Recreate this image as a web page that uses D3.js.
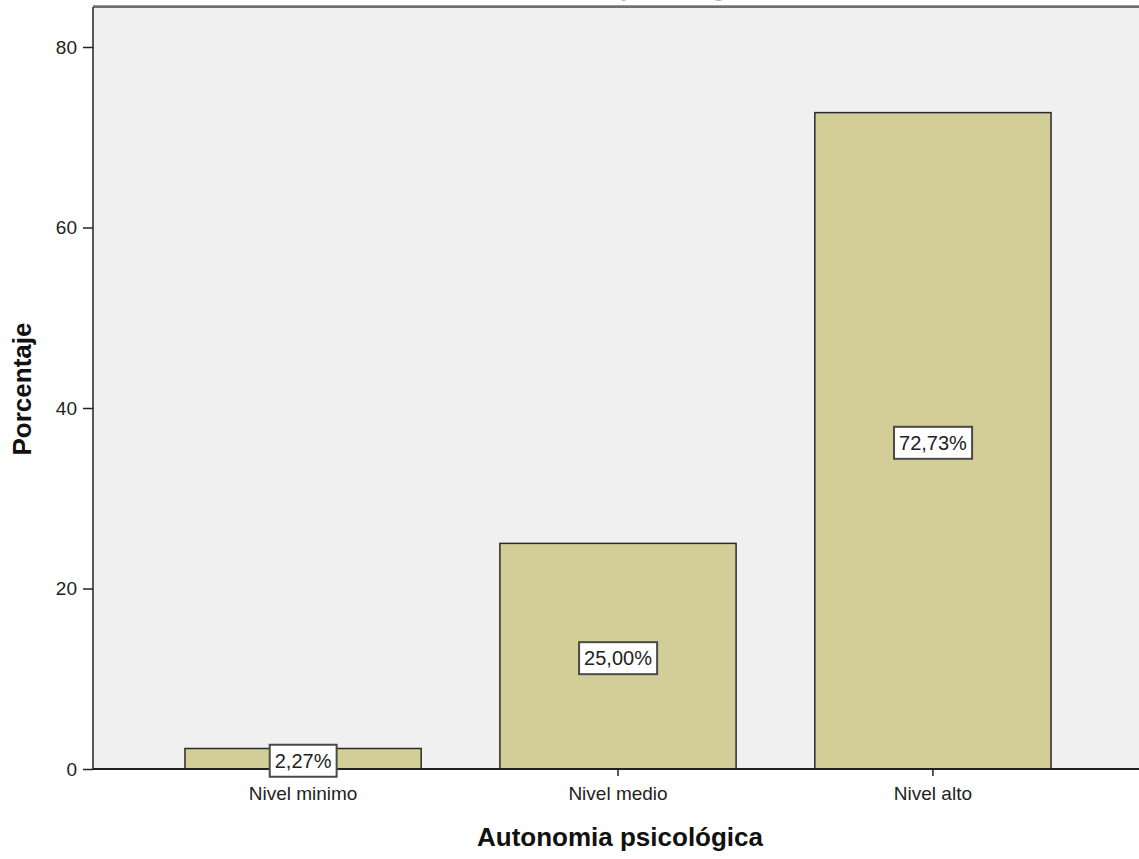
<html>
<head>
<meta charset="utf-8">
<style>
  body { margin: 0; background: #fff; }
  text { font-family: "Liberation Sans", Arial, sans-serif; }
</style>
</head>
<body>
<svg width="1139" height="859"></svg>
<script src="https://cdn.jsdelivr.net/npm/d3@7/dist/d3.min.js"></script>
<script>
const categories = ["Nivel minimo", "Nivel medio", "Nivel alto"]
const values = [2.27, 25.00, 72.73]
const valueLabels = ["2,27%", "25,00%", "72,73%"]
const yTicks = [0, 20, 40, 60, 80]

const svg = d3.select("svg")

// plot frame
const plotLeft = 93, plotRight = 1143, plotTop = 7, plotBottom = 769

const x = d3.scaleBand().domain(categories).range([plotLeft, plotRight])
  .paddingInner(0.25).paddingOuter(0.292)
const y = d3.scaleLinear().domain([0, 80]).range([plotBottom, 47])

// background
svg.append("rect").attr("x", plotLeft).attr("y", plotTop).attr("width", plotRight - plotLeft).attr("height", plotBottom - plotTop)
  .attr("fill", "#f0f0f0")
// top border (double gray)
svg.append("line").attr("x1", plotLeft).attr("x2", 1139).attr("y1", plotTop - 1.5).attr("y2", plotTop - 1.5)
  .attr("stroke", "#999").attr("stroke-width", 1)
svg.append("line").attr("x1", plotLeft).attr("x2", 1139).attr("y1", plotTop).attr("y2", plotTop)
  .attr("stroke", "#6e6e6e").attr("stroke-width", 2)

// title, mostly cut off at the top
svg.append("text").attr("x", 620).attr("y", -4).attr("text-anchor", "middle")
  .attr("font-size", 26).attr("font-weight", "bold").attr("fill", "#bbb").text("Autonomia psicológica")

// bars
svg.selectAll("rect.bar").data(values).enter().append("rect").attr("class", "bar")
  .attr("x", (d, i) => x(categories[i]))
  .attr("y", d => y(d))
  .attr("width", x.bandwidth())
  .attr("height", d => y(0) - y(d))
  .attr("fill", "#d3ce97").attr("stroke", "#2a2a2a").attr("stroke-width", 1.5)

// axes
const yAxis = svg.append("g").attr("transform", `translate(${plotLeft},0)`)
  .call(d3.axisLeft(y).tickValues(yTicks).tickSize(10).tickPadding(6).tickFormat(d3.format("d")))
yAxis.select(".domain").attr("stroke", "#222").attr("stroke-width", 1.5).attr("d", `M0,${plotTop}V${plotBottom}`)
yAxis.selectAll(".tick line").attr("stroke", "#222").attr("stroke-width", 1.5)
yAxis.selectAll(".tick text").attr("font-size", 19).attr("fill", "#222")
  .attr("font-family", "'Liberation Sans', Arial, sans-serif")

const xAxis = svg.append("g").attr("transform", `translate(0,${plotBottom})`)
  .call(d3.axisBottom(x).tickSize(7).tickPadding(11))
xAxis.select(".domain").attr("stroke", "#222").attr("stroke-width", 2).attr("d", `M${plotLeft},0H1139`)
xAxis.selectAll(".tick line").attr("stroke", "#222").attr("stroke-width", 1.5)
xAxis.selectAll(".tick text").attr("font-size", 19).attr("fill", "#222")
  .attr("font-family", "'Liberation Sans', Arial, sans-serif")

// value labels
const labels = svg.selectAll("g.lab").data(values).enter().append("g").attr("class", "lab")
  .attr("transform", (d, i) => `translate(${x(categories[i]) + x.bandwidth() / 2},${(y(d) + y(0)) / 2 + 2})`)
labels.append("text").attr("text-anchor", "middle").attr("dy", "0.35em")
  .attr("font-size", 20).attr("fill", "#222").text((d, i) => valueLabels[i])
labels.each(function() {
  const g = d3.select(this)
  const bb = g.select("text").node().getBBox()
  g.insert("rect", "text").attr("x", bb.x - 5).attr("y", bb.y - 5).attr("width", bb.width + 10).attr("height", bb.height + 10)
    .attr("fill", "#fff").attr("stroke", "#4a4a4a").attr("stroke-width", 2)
})

// axis titles
svg.append("text").attr("transform", "translate(31,389) rotate(-90)").attr("text-anchor", "middle")
  .attr("font-size", 26).attr("font-weight", "bold").attr("fill", "#111").text("Porcentaje")
svg.append("text").attr("x", 620).attr("y", 846).attr("text-anchor", "middle")
  .attr("font-size", 26).attr("font-weight", "bold").attr("fill", "#111").text("Autonomia psicológica")
</script>
</body>
</html>
